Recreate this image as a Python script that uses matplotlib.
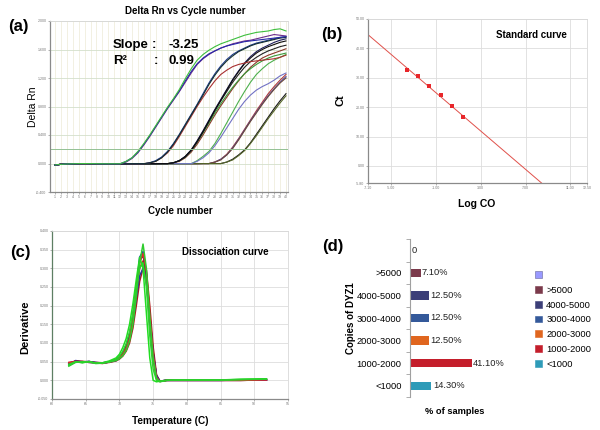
import numpy as np
import matplotlib
matplotlib.use('Agg')
import matplotlib.pyplot as plt
from matplotlib.patches import Patch

plt.rcParams['font.family'] = ['Liberation Sans', 'DejaVu Sans']

# ---------------- (a) amplification data ----------------
cycles = list(range(1, 41))
flat = [-0.020, -0.012, -0.007, -0.004, -0.002, -0.001, -0.002, -0.003, -0.004, -0.004,
        -0.004, -0.004, -0.004, -0.003, -0.003, -0.003, -0.003, -0.003, -0.002, -0.002,
        -0.002, -0.002, -0.002, -0.002, -0.002, -0.001, -0.001, -0.001, -0.001, -0.001]
green1 = flat[:12] + [0.03, 0.08, 0.17, 0.28, 0.40, 0.53, 0.66, 0.79, 0.91, 1.04, 1.19, 1.33, 1.45, 1.53,
                      1.59, 1.64, 1.68, 1.71, 1.74, 1.77, 1.80, 1.82, 1.84, 1.85, 1.86, 1.88, 1.89, 1.86]
blue1 = flat[:12] + [0.03, 0.08, 0.16, 0.27, 0.39, 0.52, 0.65, 0.78, 0.90, 1.02, 1.16, 1.29, 1.40, 1.48,
                     1.54, 1.58, 1.62, 1.65, 1.67, 1.69, 1.71, 1.72, 1.73, 1.74, 1.75, 1.76, 1.77, 1.78]
purple1 = flat[:12] + [0.02, 0.07, 0.15, 0.26, 0.38, 0.51, 0.64, 0.77, 0.89, 1.01, 1.14, 1.27, 1.39, 1.47,
                       1.53, 1.58, 1.62, 1.65, 1.68, 1.70, 1.72, 1.73, 1.75, 1.77, 1.79, 1.81, 1.80, 1.79]
blue2 = flat[:16] + [0.01, 0.04, 0.09, 0.17, 0.28, 0.41, 0.55, 0.69, 0.83, 0.98, 1.13, 1.26,
                     1.37, 1.46, 1.53, 1.58, 1.62, 1.66, 1.69, 1.71, 1.73, 1.75, 1.77, 1.78]
dark2 = flat[:16] + [0.01, 0.03, 0.08, 0.16, 0.27, 0.40, 0.54, 0.68, 0.82, 0.96, 1.11, 1.24,
                     1.35, 1.44, 1.51, 1.57, 1.61, 1.65, 1.68, 1.70, 1.72, 1.74, 1.76, 1.77]
red2 = flat[:16] + [0.01, 0.03, 0.08, 0.15, 0.25, 0.38, 0.52, 0.66, 0.80, 0.93, 1.05, 1.16,
                    1.25, 1.31, 1.36, 1.39, 1.41, 1.43, 1.44, 1.45, 1.46, 1.47, 1.49, 1.52]
black3a = flat[:20] + [0.01, 0.04, 0.10, 0.19, 0.31, 0.45, 0.60, 0.75, 0.89, 1.03,
                       1.17, 1.29, 1.40, 1.48, 1.55, 1.60, 1.64, 1.67, 1.70, 1.72]
black3b = flat[:20] + [0.01, 0.04, 0.09, 0.18, 0.30, 0.44, 0.59, 0.74, 0.88, 1.01,
                       1.14, 1.25, 1.35, 1.43, 1.49, 1.54, 1.58, 1.61, 1.64, 1.66]
navy3 = flat[:20] + [0.01, 0.04, 0.10, 0.19, 0.32, 0.46, 0.61, 0.76, 0.90, 1.04,
                     1.18, 1.30, 1.41, 1.50, 1.57, 1.62, 1.66, 1.70, 1.73, 1.75]
green3 = flat[:20] + [0.01, 0.04, 0.09, 0.18, 0.30, 0.43, 0.57, 0.71, 0.84, 0.96,
                      1.07, 1.17, 1.26, 1.33, 1.39, 1.44, 1.48, 1.51, 1.53, 1.55]
brown3 = flat[:20] + [0.01, 0.03, 0.08, 0.16, 0.27, 0.40, 0.54, 0.68, 0.81, 0.93,
                      1.05, 1.16, 1.26, 1.35, 1.42, 1.48, 1.52, 1.55, 1.58, 1.61]
green4 = flat[:24] + [0.04, 0.10, 0.17, 0.28, 0.42, 0.57, 0.72, 0.87, 1.01, 1.14, 1.25, 1.33, 1.40, 1.45, 1.49, 1.53]
bluegray4 = flat[:24] + [0.03, 0.08, 0.15, 0.25, 0.37, 0.50, 0.63, 0.76, 0.87, 0.96, 1.03, 1.08, 1.12, 1.17, 1.23, 1.27]
red5 = flat[:27] + [0.02, 0.06, 0.13, 0.23, 0.35, 0.48, 0.61, 0.74, 0.86, 0.98, 1.08, 1.17, 1.25]
blue5 = flat[:27] + [0.02, 0.06, 0.12, 0.22, 0.34, 0.47, 0.60, 0.72, 0.84, 0.95, 1.05, 1.14, 1.22]
brown5 = flat[:27] + [0.02, 0.05, 0.12, 0.21, 0.33, 0.46, 0.59, 0.71, 0.83, 0.94, 1.04, 1.13, 1.20]
black6 = flat[:29] + [0.02, 0.06, 0.12, 0.19, 0.29, 0.41, 0.53, 0.65, 0.77, 0.88, 0.98]
olive6 = flat[:29] + [0.02, 0.05, 0.11, 0.18, 0.28, 0.39, 0.51, 0.63, 0.74, 0.85, 0.95]
threshold = 0.2
amp_yticks = [-0.4, 0.0, 0.4, 0.8, 1.2, 1.6, 2.0]

# ---------------- (b) standard curve ----------------
log_co = [-3.58, -2.59, -1.60, -0.61, 0.41, 1.37]
ct = [32.5, 30.6, 27.2, 24.1, 20.3, 16.5]
fit_slope = -3.25
fit_intercept = 21.6
r2 = 0.99
std_xticks = [-7.1, -5.0, -1.0, 3.0, 7.0, 11.0, 12.5]
std_yticks = [-5.8, 0, 10, 20, 30, 40, 50]

# ---------------- (c) dissociation ----------------
temps = [62.5, 63.5, 64.5, 65.5, 66.5, 67.5, 68.5, 69.5, 70.0, 70.5, 71.0, 71.5, 72.0, 72.5,
         73.0, 73.5, 74.0, 74.5, 75.0, 75.5, 76.0, 77.0, 79.0, 82.0, 85.0, 88.0, 91.8]
d_red1 = [0.045, 0.052, 0.049, 0.050, 0.047, 0.045, 0.050, 0.055, 0.062, 0.072, 0.090, 0.120, 0.170, 0.240,
          0.300, 0.320, 0.270, 0.160, 0.055, 0.003, -0.003, 0.000, 0.000, 0.000, 0.000, 0.000, 0.001]
d_red2 = [0.048, 0.050, 0.051, 0.049, 0.048, 0.047, 0.048, 0.052, 0.057, 0.065, 0.078, 0.100, 0.140, 0.200,
          0.265, 0.300, 0.295, 0.200, 0.090, 0.015, -0.002, 0.000, 0.000, 0.000, 0.000, 0.000, 0.001]
d_red3 = [0.047, 0.051, 0.050, 0.048, 0.047, 0.046, 0.049, 0.054, 0.060, 0.070, 0.086, 0.112, 0.160, 0.235,
          0.315, 0.340, 0.290, 0.180, 0.070, 0.008, -0.003, 0.000, 0.000, 0.000, 0.000, 0.000, 0.001]
d_blue1 = [0.042, 0.053, 0.050, 0.048, 0.047, 0.046, 0.049, 0.054, 0.060, 0.070, 0.088, 0.115, 0.165, 0.245,
           0.330, 0.345, 0.280, 0.170, 0.070, 0.010, -0.002, 0.000, 0.000, 0.000, 0.000, 0.001, 0.001]
d_blue2 = [0.046, 0.050, 0.048, 0.050, 0.048, 0.046, 0.049, 0.053, 0.059, 0.068, 0.084, 0.110, 0.155, 0.220,
           0.280, 0.300, 0.260, 0.165, 0.070, 0.012, -0.002, 0.000, 0.000, 0.000, 0.000, 0.000, 0.001]
d_navy = [0.044, 0.051, 0.049, 0.051, 0.046, 0.047, 0.050, 0.056, 0.063, 0.075, 0.094, 0.125, 0.175, 0.250,
          0.320, 0.335, 0.285, 0.175, 0.075, 0.012, -0.002, 0.000, 0.000, 0.000, 0.000, 0.001, 0.002]
d_green1 = [0.040, 0.050, 0.047, 0.050, 0.046, 0.047, 0.052, 0.060, 0.070, 0.088, 0.112, 0.150, 0.205, 0.270,
            0.330, 0.300, 0.180, 0.060, 0.000, -0.004, -0.002, 0.000, 0.001, 0.001, 0.001, 0.003, 0.004]
d_green2 = [0.038, 0.048, 0.050, 0.049, 0.045, 0.046, 0.049, 0.053, 0.058, 0.066, 0.080, 0.105, 0.150, 0.225,
            0.315, 0.365, 0.300, 0.170, 0.060, 0.005, -0.003, 0.000, 0.001, 0.001, 0.001, 0.002, 0.003]
d_green3 = [0.043, 0.049, 0.048, 0.050, 0.046, 0.046, 0.050, 0.056, 0.064, 0.078, 0.098, 0.130, 0.180, 0.250,
            0.300, 0.315, 0.250, 0.120, 0.030, 0.000, -0.004, 0.000, 0.001, 0.001, 0.001, 0.002, 0.004]
diss_xticks = [60, 65, 70, 75, 80, 85, 90, 95]
diss_yticks = [-0.05, 0.0, 0.05, 0.10, 0.15, 0.20, 0.25, 0.30, 0.35, 0.40]

# ---------------- (d) bar chart ----------------
copy_cats = ['<1000', '1000-2000', '2000-3000', '3000-4000', '4000-5000', '>5000', '']
pct_samples = [14.3, 41.1, 12.5, 12.5, 12.5, 7.1, 0]
pct_labels = ['14.30%', '41.10%', '12.50%', '12.50%', '12.50%', '7.10%', '0']
bar_colors = ['#2E9BB8', '#C41E2B', '#E0661F', '#34599A', '#3C3F78', '#7B3A4B', '#9999FF']

# =====================================================================
W, H = 600, 430
fig = plt.figure(figsize=(6, 4.3), dpi=100)


def ax_px(l, t, r, b):
    return fig.add_axes([l / W, 1 - b / H, (r - l) / W, (b - t) / H])


def fpos(x, y):
    return x / W, 1 - y / H


def style_small(ax, left_col='#8A8A8A'):
    ax.tick_params(labelsize=2.6, length=1.5, width=0.4, colors='#777777', pad=1)
    for s in ['top', 'right']:
        ax.spines[s].set_color('#D8D8D8')
        ax.spines[s].set_linewidth(0.6)
    ax.spines['left'].set_color(left_col)
    ax.spines['bottom'].set_color('#8A8A8A')
    ax.spines['left'].set_linewidth(0.9)
    ax.spines['bottom'].set_linewidth(0.9)
    ax.set_axisbelow(True)


# ---- (a)
axA = ax_px(50, 21, 288, 192)
amp = [(red5, '#B03A3A'), (blue5, '#4A4AA0'), (brown5, '#6E4A3A'), (black6, '#1A1A1A'), (olive6, '#55652A'),
       (green4, '#4DB04D'), (bluegray4, '#7272C4'),
       (brown3, '#8B3A2A'), (green3, '#3A9A3A'), (black3b, '#222222'), (navy3, '#1E1E5A'), (black3a, '#0E0E0E'),
       (red2, '#A83030'), (blue2, '#1E3A8A'), (dark2, '#143030'),
       (purple1, '#6B2C8C'), (blue1, '#2828A8'), (green1, '#3DBE3D')]
for vals, col in amp:
    axA.plot(cycles, vals, color=col, lw=0.8)
axA.axhline(threshold, color='#93C193', lw=0.7)
axA.set_xlim(0.16, 40.34)
axA.set_ylim(-0.4, 2.0)
axA.set_xticks(cycles)
axA.set_xticklabels([str(c) for c in cycles])
axA.set_yticks(amp_yticks)
axA.set_yticklabels(['%.3f' % v for v in amp_yticks])
axA.grid(axis='x', color='#F0EEDD', lw=0.6)
axA.grid(axis='y', color='#D3DFCB', lw=0.6)
style_small(axA)
axA.set_ylabel('Delta Rn', fontsize=7.5)
axA.yaxis.set_label_coords(-0.05, 0.5)
axA.set_xlabel('Cycle number', fontsize=7, fontweight='bold')
axA.xaxis.set_label_coords(0.546, -0.082)
fig.text(*fpos(185, 11), 'Delta Rn vs Cycle number', ha='center', va='center', fontsize=7, fontweight='bold')
fig.text(*fpos(18, 27), '(a)', ha='center', va='center', fontsize=12, fontweight='bold')
fig.text(*fpos(113, 45), 'Slope', ha='left', va='center', fontsize=9.5, fontweight='bold')
fig.text(*fpos(152, 45), ':', ha='left', va='center', fontsize=9.5, fontweight='bold')
fig.text(*fpos(168, 45), '%.2f' % fit_slope, ha='left', va='center', fontsize=9.5, fontweight='bold')
fig.text(*fpos(113, 61), 'R²', ha='left', va='center', fontsize=9.5, fontweight='bold')
fig.text(*fpos(154, 61), ':', ha='left', va='center', fontsize=9.5, fontweight='bold')
fig.text(*fpos(168, 61), '%.2f' % r2, ha='left', va='center', fontsize=9.5, fontweight='bold')

# ---- (b)
axB = ax_px(368, 19, 587, 183)
xl = (std_xticks[0], std_xticks[-1])
yl = (std_yticks[0], std_yticks[-1])
x_end = (yl[0] - fit_intercept) / fit_slope
axB.plot([xl[0], x_end], [fit_intercept + fit_slope * xl[0], yl[0]], color='#E0504A', lw=0.7)
axB.plot(log_co, ct, 's', color='#E8262A', ms=3.0, mew=0)
axB.set_xlim(*xl)
axB.set_ylim(*yl)
axB.set_xticks(std_xticks)
axB.set_xticklabels(['%.2f' % v for v in std_xticks])
axB.set_yticks(std_yticks)
axB.set_yticklabels(['%.2f' % v for v in std_yticks])
axB.grid(True, color='#DDDDDD', lw=0.6)
style_small(axB)
axB.set_ylabel('Ct', fontsize=8, fontweight='bold')
axB.yaxis.set_label_coords(-0.105, 0.506)
axB.set_xlabel('Log CO', fontsize=7.5, fontweight='bold')
axB.xaxis.set_label_coords(0.498, -0.098)
fig.text(*fpos(332, 35), '(b)', ha='center', va='center', fontsize=12, fontweight='bold')
fig.text(*fpos(531, 35), 'Standard curve', ha='center', va='center', fontsize=7, fontweight='bold')

# ---- (c)
axC = ax_px(52, 231, 288, 399)
diss = [(d_red1, '#D42020'), (d_blue1, '#2020C8'), (d_red2, '#B01818'), (d_navy, '#20205E'),
        (d_blue2, '#3030A0'), (d_red3, '#E02828'), (d_green3, '#30D030'), (d_green1, '#22DD22'),
        (d_green2, '#2ECC2E')]
for vals, col in diss:
    axC.plot(temps, vals, color=col, lw=1.1)
axC.set_xlim(diss_xticks[0], diss_xticks[-1])
axC.set_ylim(diss_yticks[0], diss_yticks[-1])
axC.set_xticks(diss_xticks)
axC.set_xticklabels([str(v) for v in diss_xticks])
axC.set_yticks(diss_yticks)
axC.set_yticklabels(['%.3f' % v for v in diss_yticks])
axC.grid(True, color='#DDDDDD', lw=0.6)
style_small(axC, left_col='#5E7F63')
axC.set_ylabel('Derivative', fontsize=8, fontweight='bold')
axC.yaxis.set_label_coords(-0.093, 0.43)
axC.set_xlabel('Temperature (C)', fontsize=7.2, fontweight='bold')
axC.xaxis.set_label_coords(0.5, -0.10)
fig.text(*fpos(20, 252), '(c)', ha='center', va='center', fontsize=12, fontweight='bold')
fig.text(*fpos(225, 252), 'Dissociation curve', ha='center', va='center', fontsize=7, fontweight='bold')

# ---- (d)
axD = ax_px(410, 239, 560, 397)
ypos = list(range(len(copy_cats)))
axD.barh(ypos, pct_samples, height=0.37, color=bar_colors)
for y, v, lab in zip(ypos, pct_samples, pct_labels):
    axD.text(v + 0.9, y, lab, ha='left', va='center', fontsize=6.7, color='#222222')
axD.set_xlim(0, 100)
axD.set_ylim(-0.5, len(copy_cats) - 0.5)
axD.set_yticks(ypos)
axD.set_yticklabels(copy_cats, fontsize=6.7)
axD.set_yticks([i - 0.5 for i in range(len(copy_cats) + 1)], minor=True)
axD.tick_params(axis='y', which='major', length=0, pad=6)
axD.tick_params(axis='y', which='minor', length=3, width=0.6, color='#A0A0A0')
axD.set_xticks([])
for s in ['top', 'right', 'bottom']:
    axD.spines[s].set_visible(False)
axD.spines['left'].set_color('#A0A0A0')
axD.spines['left'].set_linewidth(0.8)
axD.set_ylabel('Copies of DYZ1', fontsize=7, fontweight='bold')
axD.yaxis.set_label_coords(-0.36, 0.5)
axD.set_xlabel('% of samples', fontsize=6.7, fontweight='bold')
axD.xaxis.set_label_coords(0.30, -0.063)
fig.text(*fpos(333, 247), '(d)', ha='center', va='center', fontsize=12, fontweight='bold')

handles = [Patch(facecolor=c, edgecolor='#666699' if lab == '' else c, linewidth=0.4)
           for c, lab in zip(bar_colors[::-1], copy_cats[::-1])]
fig.legend(handles, copy_cats[::-1], loc='upper left', bbox_to_anchor=fpos(535, 271),
           frameon=False, handlelength=0.75, handleheight=0.75, handletextpad=0.45,
           labelspacing=0.62, borderpad=0, borderaxespad=0,
           prop={'size': 6.7})

fig.savefig('out.png', dpi=100)
